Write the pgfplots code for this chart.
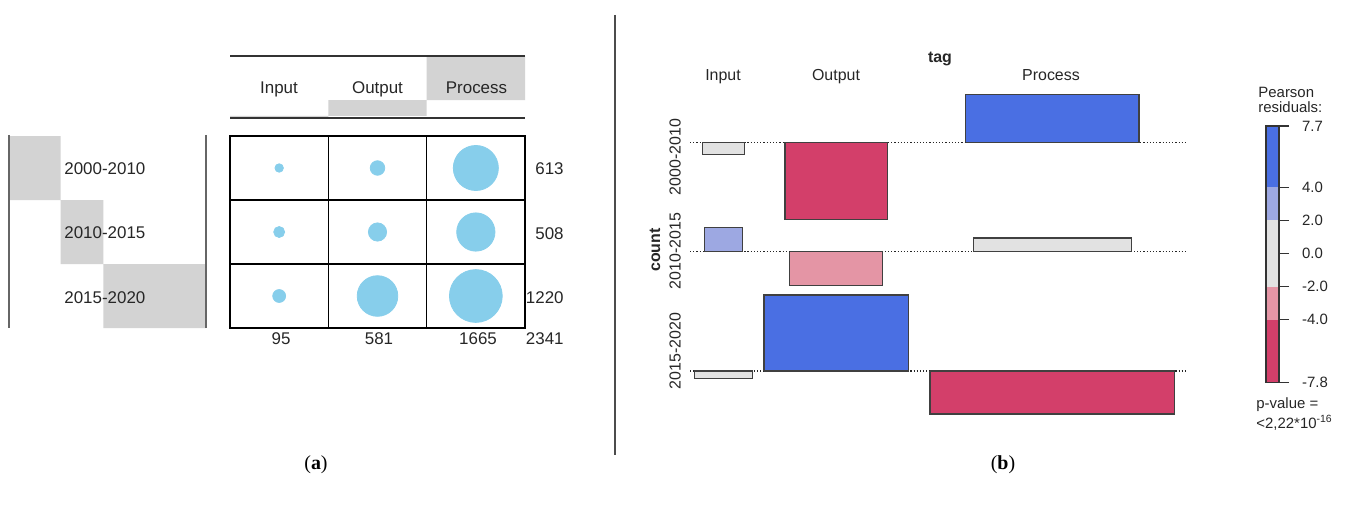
\documentclass[border=0pt]{standalone}
\usepackage{pgfplots}
\usepackage{pgfplotstable}
\pgfplotsset{compat=1.18}
\usepackage{fontspec}
\setmainfont{Liberation Sans}
\newfontfamily\capfont{Liberation Serif}
\definecolor{sky}{HTML}{87CEEB}
\definecolor{pblue}{HTML}{4A6FE3}
\definecolor{lblue}{HTML}{9DA8E2}
\definecolor{lgray}{HTML}{E2E2E2}
\definecolor{lred}{HTML}{E495A5}
\definecolor{pred}{HTML}{D33F6A}
\definecolor{mgray}{HTML}{D3D3D3}
\definecolor{txt}{HTML}{262626}
\newcommand\fs[1]{\fontsize{#1}{#1}\selectfont}

% balloon plot: observed counts (column x: 1 Input, 2 Output, 3 Process; row y: 1 2000-2010, 2 2010-2015, 3 2015-2020)
\pgfplotstableread{
x y n
1 1 19
2 1 56
3 1 538
1 2 32
2 2 88
3 2 388
1 3 44
2 3 437
3 3 739
}\balloon

\pgfplotsset{
  assocrow/.style={anchor=south west, scale only axis, width=248.5bp, height=88.65bp,
    xmin=0, xmax=59.88, ymin=-9, ymax=9, hide axis, clip=false},
  cell/.style={fill=#1, draw=black!75, line width=0.6bp},
  base/.style={densely dotted, black!85, line width=0.6bp},
}

\begin{document}
\begin{tikzpicture}[x=0.5bp,y=-0.5bp, lab/.style={inner sep=0pt, text=txt, text depth=0pt}]
\path[use as bounding box] (0,0) rectangle (1347,505);

% ---------- panel (a) ----------
% row marginal bars
\begin{axis}[at={(4.5bp,-164bp)}, anchor=south west, scale only axis, width=98.5bp, height=96bp,
  xmin=0, xmax=2341, ymin=0.5, ymax=3.5, y dir=reverse, hide axis,
  xbar stacked, bar width=1, clip=false]
\addplot[draw=none, fill=none] coordinates {(0,1) (613,2) (1121,3)};
\addplot[draw=none, fill=mgray] coordinates {(613,1) (508,2) (1220,3)};
\end{axis}
% column marginal bars
\begin{axis}[at={(115bp,-59.15bp)}, anchor=south west, scale only axis, width=147.5bp, height=31.3bp,
  xmin=0.5, xmax=3.5, ymin=0, ymax=2341, hide axis, ybar stacked, bar width=1, clip=false]
\addplot[draw=none, fill=none] coordinates {(1,0) (2,95) (3,676)};
\addplot[draw=none, fill=mgray] coordinates {(1,95) (2,581) (3,1665)};
\end{axis}
% balloon grid
\begin{axis}[at={(115bp,-164bp)}, anchor=south west, scale only axis, width=147.5bp, height=96bp,
  xmin=0.5, xmax=3.5, ymin=0.5, ymax=3.5, y dir=reverse,
  xtick={1.5,2.5}, ytick={1.5,2.5}, xticklabel=\empty, yticklabel=\empty, major tick length=0pt,
  grid=major, grid style={black, line width=0.8bp, solid},
  axis line style={black, line width=0.8bp}, clip=false]
\addplot[scatter, only marks, mark=*, point meta=\thisrow{n},
  scatter/use mapped color={draw=sky, fill=sky},
  visualization depends on={0.4875*sqrt(\thisrow{n}) \as \rad},
  scatter/@pre marker code/.append style={/tikz/mark size=\rad}]
  table[x=x, y=y] {\balloon};
\end{axis}

\draw[black!80, line width=0.9bp] (230,55.7) -- (525,55.7);
\draw[black!80, line width=0.9bp] (230,118.3) -- (525,118.3);
\draw[black!60, line width=0.7bp] (9,135) -- (9,328);
\draw[black!60, line width=0.7bp] (206,135) -- (206,328);

\node[lab, font=\fs{8.5}] at (279,88) {Input};
\node[lab, font=\fs{8.5}] at (377.5,88) {Output};
\node[lab, font=\fs{8.5}] at (476.5,88) {Process};
\node[lab, font=\fs{8.5}, anchor=west] at (64,169) {2000-2010};
\node[lab, font=\fs{8.5}, anchor=west] at (64,233) {2010-2015};
\node[lab, font=\fs{8.5}, anchor=west] at (64,298) {2015-2020};
\node[lab, font=\fs{8.5}, anchor=east] at (564,169) {613};
\node[lab, font=\fs{8.5}, anchor=east] at (564,234) {508};
\node[lab, font=\fs{8.5}, anchor=east] at (564,298) {1220};
\node[lab, font=\fs{8.5}, anchor=east] at (564,339) {2341};
\node[lab, font=\fs{8.5}] at (281,339) {95};
\node[lab, font=\fs{8.5}] at (379,339) {581};
\node[lab, font=\fs{8.5}] at (478,339) {1665};

% separator
\draw[black!70, line width=0.6bp] (615,15) -- (615,455);

% ---------- panel (b): association plot ----------
% row 2000-2010 (width = sqrt(expected), height = Pearson residual)
\begin{axis}[assocrow, at={(345bp,-115.575bp)}]
\addplot[base] coordinates {(0,0) (59.88,0)};
\addplot[cell=lgray] coordinates {(1.546,0) (1.546,-1.178) (6.534,-1.178) (6.534,0) (1.546,0)};
\addplot[cell=pred]  coordinates {(11.433,0) (11.433,-7.794) (23.767,-7.794) (23.767,0) (11.433,0)};
\addplot[cell=pblue] coordinates {(33.20,0) (33.20,4.885) (54.08,4.885) (54.08,0) (33.20,0)};
\end{axis}
% row 2010-2015
\begin{axis}[assocrow, at={(345bp,-170.225bp)}]
\addplot[base] coordinates {(0,0) (59.88,0)};
\addplot[cell=lblue] coordinates {(1.770,0) (1.770,2.507) (6.310,2.507) (6.310,0) (1.770,0)};
\addplot[cell=lred]  coordinates {(11.986,0) (11.986,-3.392) (23.214,-3.392) (23.214,0) (11.986,0)};
\addplot[cell=lgray] coordinates {(34.136,0) (34.136,1.404) (53.144,1.404) (53.144,0) (34.136,0)};
\end{axis}
% row 2015-2020
\begin{axis}[assocrow, at={(345bp,-229.825bp)}]
\addplot[base] coordinates {(0,0) (59.88,0)};
\addplot[cell=lgray] coordinates {(0.522,0) (0.522,-0.783) (7.558,-0.783) (7.558,0) (0.522,0)};
\addplot[cell=pblue] coordinates {(8.900,0) (8.900,7.713) (26.300,7.713) (26.300,0) (8.900,0)};
\addplot[cell=pred]  coordinates {(28.912,0) (28.912,-4.369) (58.368,-4.369) (58.368,0) (28.912,0)};
\end{axis}

\node[lab, font=\fs{8}\bfseries] at (940,57) {tag};
\node[lab, font=\fs{8}] at (723,75) {Input};
\node[lab, font=\fs{8}] at (836,75) {Output};
\node[lab, font=\fs{8}] at (1051,75) {Process};
\node[lab, font=\fs{8}\bfseries, rotate=90] at (655,250) {count};
\node[lab, font=\fs{8}, rotate=90] at (675,157) {2000-2010};
\node[lab, font=\fs{8}, rotate=90] at (675,251) {2010-2015};
\node[lab, font=\fs{8}, rotate=90] at (675,351) {2015-2020};

% colour key
\begin{axis}[at={(633bp,-191.35bp)}, anchor=south west, scale only axis, width=6.5bp, height=128.35bp,
  xmin=0, xmax=1, ymin=-7.8, ymax=7.7, xtick=\empty,
  ytick={-7.8,-4,-2,0,2,4,7.7}, yticklabels={-7.8,-4.0,-2.0,0.0,2.0,4.0,7.7},
  ytick pos=right, yticklabel pos=right, tick align=outside, major tick length=5bp,
  tick style={black!80, line width=0.6bp}, axis line style={black!80, line width=0.6bp},
  axis on top, yticklabel style={font=\fs{7.5}, text=txt, anchor=west, xshift=3bp}]
\addplot[fill=pblue, draw=none] coordinates {(0,4) (0,7.7) (1,7.7) (1,4)};
\addplot[fill=lblue, draw=none] coordinates {(0,2) (0,4) (1,4) (1,2)};
\addplot[fill=lgray, draw=none] coordinates {(0,-2) (0,2) (1,2) (1,-2)};
\addplot[fill=lred, draw=none] coordinates {(0,-4) (0,-2) (1,-2) (1,-4)};
\addplot[fill=pred, draw=none] coordinates {(0,-7.8) (0,-4) (1,-4) (1,-7.8)};
\end{axis}
\node[lab, font=\fs{7.5}, anchor=west] at (1258,92) {Pearson};
\node[lab, font=\fs{7.5}, anchor=west] at (1258,107) {residuals:};
\node[lab, font=\fs{7.5}, anchor=west] at (1256,403) {p-value =};
\node[lab, font=\fs{7.5}, anchor=west] at (1256,422) {<2,22*10\textsuperscript{-16}};

% captions
\node[lab, font=\capfont\fs{10}, text=black] at (316,463) {(\textbf{a})};
\node[lab, font=\capfont\fs{10}, text=black] at (1003,463) {(\textbf{b})};
\end{tikzpicture}
\end{document}
